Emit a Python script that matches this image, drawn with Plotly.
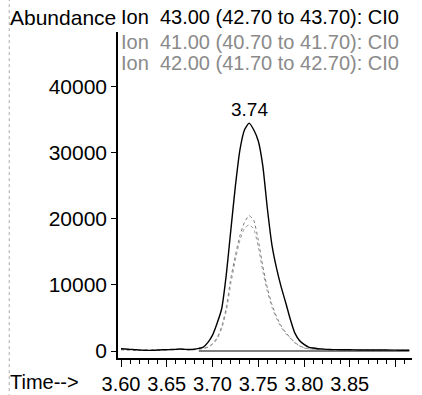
import plotly.graph_objects as go

# retention time axis (min) for all three ion traces
time = [3.600, 3.605, 3.610, 3.615, 3.620, 3.625, 3.630, 3.635, 3.640, 3.645,
        3.650, 3.655, 3.660, 3.665, 3.670, 3.675, 3.680, 3.685, 3.690, 3.695,
        3.700, 3.705, 3.710, 3.715, 3.720, 3.725, 3.730, 3.735, 3.740, 3.745,
        3.750, 3.755, 3.760, 3.765, 3.770, 3.775, 3.780, 3.785, 3.790, 3.795,
        3.800, 3.805, 3.810, 3.815, 3.820, 3.825, 3.830, 3.840, 3.850, 3.860,
        3.870, 3.880, 3.890, 3.900, 3.910, 3.915]

ion43 = [350, 300, 250, 200, 150, 120, 100, 110, 140, 180,
         200, 220, 250, 300, 250, 220, 260, 400, 600, 1300,
         2400, 4200, 6400, 11500, 18300, 25000, 30500, 33500, 34500, 33500,
         31800, 28000, 21500, 16000, 12500, 9700, 7300, 4800, 2700, 1600,
         1000, 600, 450, 350, 300, 250, 220, 200, 180, 160,
         150, 150, 140, 130, 120, 120]

ion41 = [200, 180, 150, 120, 100, 100, 100, 120, 150, 180,
         200, 220, 250, 250, 220, 200, 220, 300, 400, 600,
         1100, 2000, 3700, 6500, 11000, 14500, 17500, 19500, 20500, 19800,
         16800, 12800, 9500, 7000, 5200, 3800, 2800, 2000, 1300, 800,
         500, 350, 300, 250, 220, 200, 200, 180, 160, 150,
         150, 140, 130, 120, 120, 120]

ion42 = [180, 160, 140, 110, 100, 100, 100, 110, 140, 170,
         190, 210, 230, 240, 210, 190, 210, 280, 380, 550,
         1000, 1800, 3400, 6000, 10200, 13800, 16800, 18600, 19100, 18500,
         15800, 12000, 9000, 6600, 4900, 3600, 2600, 1900, 1200, 750,
         450, 320, 280, 230, 200, 190, 180, 170, 150, 140,
         140, 130, 120, 110, 110, 110]

# integration baseline under the peak
base_t = [3.685, 3.915]
base_y = [0, 0]

peak_rt = 3.74
peak_h = 34500

y_ticks = [0, 10000, 20000, 30000, 40000]
y_text = ['0', '10000', '20000', '30000', '40000']
x_ticks = [3.60, 3.65, 3.70, 3.75, 3.80, 3.85, 3.90]
x_text = ['3.60', '3.65', '3.70', '3.75', '3.80', '3.85', '']

FONT = 'Liberation Sans, Arial, sans-serif'

fig = go.Figure()
fig.add_trace(go.Scatter(x=base_t, y=base_y, mode='lines',
                         line=dict(color='black', width=1)))
fig.add_trace(go.Scatter(x=time, y=ion41, mode='lines',
                         line=dict(color='#777777', width=1, dash='dot', shape='spline', smoothing=0.5)))
fig.add_trace(go.Scatter(x=time, y=ion42, mode='lines',
                         line=dict(color='#999999', width=1, dash='dot', shape='spline', smoothing=0.5)))
fig.add_trace(go.Scatter(x=time, y=ion43, mode='lines',
                         line=dict(color='black', width=1.4, shape='spline', smoothing=0.5)))

fig.add_annotation(x=peak_rt, y=peak_h, text='3.74', showarrow=False,
                   yanchor='bottom', yshift=1, font=dict(size=19, color='black'))

fig.add_annotation(xref='paper', yref='paper', x=0, y=1, xshift=-110, yshift=28,
                   xanchor='left', yanchor='top', showarrow=False,
                   text='Abundance', font=dict(size=21, color='black'))
fig.add_annotation(xref='paper', yref='paper', x=0, y=1, xshift=1, yshift=28,
                   xanchor='left', yanchor='top', showarrow=False,
                   text='Ion  43.00 (42.70 to 43.70): CI0', font=dict(size=20, color='black'))
fig.add_annotation(xref='paper', yref='paper', x=0, y=1, xshift=1, yshift=3,
                   xanchor='left', yanchor='top', showarrow=False,
                   text='Ion  41.00 (40.70 to 41.70): CI0', font=dict(size=20, color='#8a8a8a'))
fig.add_annotation(xref='paper', yref='paper', x=0, y=1, xshift=1, yshift=-18,
                   xanchor='left', yanchor='top', showarrow=False,
                   text='Ion  42.00 (41.70 to 42.70): CI0', font=dict(size=20, color='#8a8a8a'))
fig.add_annotation(xref='paper', yref='paper', x=0, y=0, xshift=-110, yshift=-11,
                   xanchor='left', yanchor='top', showarrow=False,
                   text='Time-->', font=dict(size=20, color='black'))

# faint scan frame on the left edge
fig.add_shape(type='line', xref='paper', yref='paper', x0=-0.37, x1=-0.37, y0=-0.12, y1=1.1,
              line=dict(color='#aaaaaa', width=1, dash='dot'))

fig.update_xaxes(range=[3.5967, 3.918], tickvals=x_ticks, ticktext=x_text,
                 ticks='outside', ticklen=7, tickcolor='black',
                 minor=dict(dtick=0.01, tick0=3.60, ticks='outside', ticklen=4, tickcolor='black'),
                 showline=True, linecolor='black', linewidth=1.5,
                 showgrid=False, zeroline=False,
                 tickfont=dict(size=20, color='black'))
fig.update_yaxes(range=[-1060, 48300], tickvals=y_ticks, ticktext=y_text,
                 ticks='outside', ticklen=5, tickcolor='black',
                 showline=True, linecolor='black', linewidth=1.5,
                 showgrid=False, zeroline=False,
                 tickfont=dict(size=21, color='black'))

fig.update_layout(
    width=422, height=395,
    margin=dict(l=118, r=10, t=32, b=37, autoexpand=False),
    paper_bgcolor='white',
    plot_bgcolor='white',
    showlegend=False,
    font=dict(family=FONT, size=21, color='black'),
)

# drop the browser's default 8px page margin so the figure fills the window
fig.write_html('out.html', config={'displayModeBar': False},
               post_script="document.body.style.margin='0';")
